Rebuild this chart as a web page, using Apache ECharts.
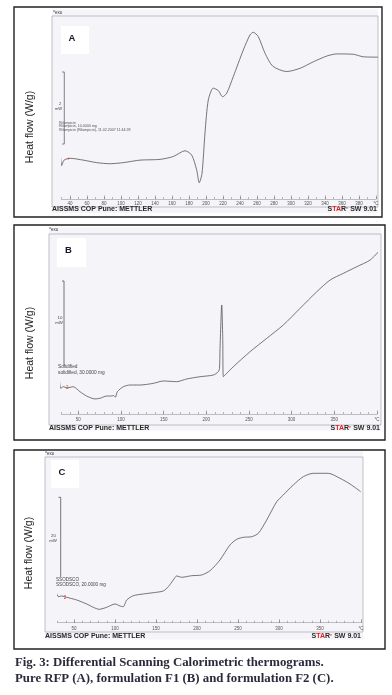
<!DOCTYPE html>
<html>
<head>
<meta charset="utf-8">
<script src="https://cdn.jsdelivr.net/npm/echarts@6/dist/echarts.min.js"></script>
<style>html,body{margin:0;padding:0;background:#fff;}#c{width:392px;height:695px;}</style>
</head>
<body>
<div id="c"></div>
<script>
// Panel A: Pure RFP
const tempA = [27.4, 30.2, 33, 40.4, 55.6, 71.4, 87, 102.7, 122.4, 145.9, 161.5, 175.3, 183.2, 189, 192.1, 195.3, 198.8, 202.7, 208.6, 214.5, 219.6, 224.4, 232.1, 243.9, 251.8, 255.6, 261.5, 269.4, 278.6, 294.9, 310.6, 326.2, 342, 353.8, 373.3, 385.1, 402.7];
const flowA = [1.73, 0.93, 1.08, 1.13, 1.08, 1.01, 0.98, 1.01, 1.08, 1.10, 1.18, 1.34, 1.22, 0.81, 0.45, 0.71, 1.83, 2.75, 3.08, 3.01, 2.84, 2.94, 3.40, 4.14, 4.56, 4.63, 4.51, 4.05, 3.69, 3.54, 3.63, 3.81, 3.97, 4.03, 4.02, 3.95, 3.94];
// Panel B: formulation F1
const tempB = [27.7, 29.4, 32.4, 36.4, 39.1, 44.1, 52, 59.8, 69.6, 75.4, 83.3, 89.2, 91.5, 93.5, 95.7, 102.8, 110.6, 122.3, 137.9, 149.6, 165.4, 177.1, 192.7, 208.3, 214.1, 215.5, 216.1, 218.1, 219.3, 220, 224, 231.7, 251.3, 270.9, 290.3, 309.9, 329.5, 345.1, 360.7, 376.4, 392, 403.7];
const flowB = [4.25, 3.06, 3.25, 3.13, 3.14, 3.25, 2.65, 2.14, 1.79, 1.87, 2.14, 2.14, 2.2, 2.0, 2.65, 3.25, 3.45, 3.45, 3.65, 3.93, 3.85, 4.17, 4.44, 4.64, 5.04, 5.44, 7.82, 12.98, 9.01, 4.44, 4.85, 5.63, 7.42, 9.01, 10.6, 12.58, 14.56, 15.95, 16.75, 17.54, 18.33, 19.52];
// Panel C: formulation F2
const tempC = [28, 30.9, 35, 41.1, 53.3, 65.5, 73.5, 80.9, 89.9, 100, 106.1, 110.1, 114.3, 122.3, 134.5, 146.7, 158.9, 165, 171.1, 175.2, 181.3, 193.5, 205.7, 215.9, 228, 240.2, 248.4, 256.5, 266.7, 274.8, 285, 297.2, 305.2, 317.4, 329.6, 341.8, 360.1, 374.4, 386.6, 399.6];
const flowC = [7.75, 6.5, 6.68, 6.35, 5.68, 4.68, 3.85, 3.35, 3.85, 4.68, 4.18, 4.0, 5.68, 6.75, 7.18, 7.5, 7.93, 9.0, 10.68, 11.68, 11.35, 11.75, 11.93, 13.0, 15.68, 19.43, 20.85, 21.35, 21.5, 22.35, 25.68, 30.25, 31.93, 34.43, 36.5, 37.35, 37.35, 36.1, 34.68, 32.75];

// Axis tick labels (°C)
const labelsA = [40, 60, 80, 100, 120, 140, 160, 180, 200, 220, 240, 260, 280, 300, 320, 340, 360, 380, 400];
const labelsBC = [50, 100, 150, 200, 250, 300, 350, 400];
const panelLetters = ['A', 'B', 'C'];
const scaleLabels = ['2', '10', '20'];
const yTitle = 'Heat flow (W/g)';

function minorTicks() { const t = []; for (let v = 30; v <= 400; v += 10) t.push(v); return t; }
const tickVals = minorTicks();

const chart = echarts.init(document.getElementById('c'), null, {renderer: 'canvas'});

const grids = [
  {left: 61.5, top: 19, width: 314.5, height: 180},
  {left: 61.24, top: 234, width: 315.7, height: 180},
  {left: 57.6, top: 462.7, width: 303.4, height: 160}
];
const yMax = [5, 21.43, 40];
const labelMargin = [2, 3.5, 4];
const labelSets = [labelsA, labelsBC, labelsBC];

const xAxes = [], yAxes = [];
for (let i = 0; i < 3; i++) {
  xAxes.push({
    gridIndex: i, type: 'value', min: 30, max: 400, position: 'bottom',
    axisLine: {show: true, lineStyle: {color: '#888', width: 0.5}},
    axisTick: {show: true, inside: true, length: 2, customValues: tickVals, lineStyle: {color: '#777', width: 0.5}},
    axisLabel: {show: false}, splitLine: {show: false}
  });
  xAxes.push({
    gridIndex: i, type: 'value', min: 30, max: 400, position: 'bottom', offset: 0,
    axisLine: {show: false},
    axisTick: {show: true, inside: true, length: 3.5, customValues: labelSets[i], lineStyle: {color: '#666', width: 0.5}},
    axisLabel: {show: true, customValues: labelSets[i], fontSize: 4.5, color: '#555', margin: labelMargin[i],
      fontFamily: 'Liberation Sans', formatter: v => v === 400 ? '°C' : String(v)},
    splitLine: {show: false}
  });
  yAxes.push({gridIndex: i, type: 'value', min: 0, max: yMax[i], show: false});
}

function mkSeries(i, temps, flows, marks) {
  return {
    type: 'line', xAxisIndex: i * 2, yAxisIndex: i, clip: false,
    data: temps.map((t, k) => [t, flows[k]]),
    showSymbol: false, smooth: 0.25, silent: true,
    lineStyle: {color: '#555', width: 0.8},
    markPoint: {
      symbol: 'circle', symbolSize: 0.1, silent: true,
      label: {show: true, color: '#e03030', fontSize: 4.5, position: 'left', distance: 0.5},
      data: marks.map(m => ({coord: [temps[m[0]], flows[m[0]]], label: {formatter: m[1]}}))
    }
  };
}

const series = [
  mkSeries(0, tempA, flowA, [[0, '1'], [3, '+']]),
  mkSeries(1, tempB, flowB, [[0, '1'], [4, '2']]),
  mkSeries(2, tempC, flowC, [[0, '0'], [3, '2']])
];

// Decorations
const G = [];
function rect(x, y, w, h, style, z) { G.push({type: 'rect', shape: {x, y, width: w, height: h}, style, z: z || 0, silent: true}); }
function txt(x, y, text, style, extra) { G.push(Object.assign({type: 'text', x, y, silent: true, style: Object.assign({text, fontFamily: 'Liberation Sans', fill: '#222'}, style)}, extra || {})); }
function pl(points, stroke, lw) { G.push({type: 'polyline', shape: {points}, style: {stroke: stroke, lineWidth: lw || 0.7, fill: null}, silent: true}); }

const panels = [
  {outer: [14, 7, 368, 210], bg: [52, 9.5, 326, 203.5], frame: [52, 16, 326, 191], exo: [53, 12.5], box: [61, 26, 28, 28],
   foot: 209.5, footL: 52, footR: 377, title: [30, 127]},
  {outer: [14, 225, 371, 215], bg: [49, 227.5, 332, 203], frame: [49, 234, 332, 191], exo: [49, 230], box: [57, 238, 29, 29],
   foot: 428, footL: 49, footR: 380, title: [30, 343]},
  {outer: [14, 450, 371, 199], bg: [45, 451.5, 318, 188], frame: [45, 457, 318, 175], exo: [45, 453.5], box: [51, 460, 28, 28],
   foot: 636.5, footL: 45, footR: 361, title: [29, 553]}
];

panels.forEach((p, i) => {
  rect(p.bg[0], p.bg[1], p.bg[2], p.bg[3], {fill: '#f4f4f9'}, -10);
  rect(p.frame[0], p.frame[1], p.frame[2], p.frame[3], {fill: null, stroke: '#a8a8b0', lineWidth: 0.7}, -9);
  rect(p.box[0], p.box[1], p.box[2], p.box[3], {fill: '#ffffff'}, -8);
  rect(p.outer[0], p.outer[1], p.outer[2], p.outer[3], {fill: null, stroke: '#222', lineWidth: 1.4}, 5);
  txt(p.box[0] + p.box[2] / 2 - 3, p.box[1] + p.box[3] / 2 - 2, panelLetters[i],
    {fontSize: 9.5, fontWeight: 'bold', fill: '#15152a', align: 'center', verticalAlign: 'middle'});
  txt(p.exo[0], p.exo[1], '^exo', {fontSize: 4.5, fill: '#333', verticalAlign: 'middle'});
  txt(p.footL, p.foot, 'AISSMS COP Pune: METTLER', {fontSize: 7, fontWeight: 'bold', fill: '#2a2a2a', verticalAlign: 'middle'});
  txt(p.footR, p.foot, '{k|S}{r|TA}{k|R}{s|e}{k| SW 9.01}', {align: 'right', verticalAlign: 'middle',
    rich: {k: {fontSize: 7, fontWeight: 'bold', fill: '#2a2a2a', fontFamily: 'Liberation Sans'},
           r: {fontSize: 7, fontWeight: 'bold', fill: '#e02020', fontFamily: 'Liberation Sans'},
           s: {fontSize: 3.8, fill: '#e02020', verticalAlign: 'top', fontFamily: 'Liberation Sans'}}});
  txt(p.title[0], p.title[1], yTitle, {fontSize: 10.5, fill: '#222', align: 'center', verticalAlign: 'middle'},
    {rotation: Math.PI / 2});
});

// scale bars
pl([[62, 72], [64.3, 72], [64.3, 144], [62, 144]], '#555', 0.7);
txt(60, 104, scaleLabels[0], {fontSize: 4, fill: '#444', align: 'center', verticalAlign: 'middle'});
txt(58.5, 108.5, 'mW', {fontSize: 4, fill: '#444', align: 'center', verticalAlign: 'middle'});
txt(59, 122.5, 'Rifampicin', {fontSize: 3.6, fill: '#555', verticalAlign: 'middle'});
txt(59, 126.3, 'Rifampicin, 10.0000 mg', {fontSize: 3.6, fill: '#555', verticalAlign: 'middle'});
txt(59, 130, 'Rifampicin (Rifampicin), 11.02.2007 11:44:28', {fontSize: 3.6, fill: '#555', verticalAlign: 'middle'});

pl([[62, 281], [64, 281], [64, 366]], '#555', 0.8);
txt(60, 318.3, scaleLabels[1], {fontSize: 4.3, fill: '#444', align: 'center', verticalAlign: 'middle'});
txt(59, 322.5, 'mW', {fontSize: 4.3, fill: '#444', align: 'center', verticalAlign: 'middle'});
txt(58, 366.8, 'Solidified', {fontSize: 4.8, fill: '#444', verticalAlign: 'middle'});
txt(58, 372.8, 'solidified, 30.0000 mg', {fontSize: 4.8, fill: '#444', verticalAlign: 'middle'});

pl([[58.5, 497.3], [60.7, 497.3], [60.7, 577]], '#555', 0.8);
txt(53.5, 535.7, scaleLabels[2], {fontSize: 4.3, fill: '#444', align: 'center', verticalAlign: 'middle'});
txt(53, 541, 'mW', {fontSize: 4.3, fill: '#444', align: 'center', verticalAlign: 'middle'});
txt(56, 579.5, 'SSODSCO', {fontSize: 4.6, fill: '#444', verticalAlign: 'middle'});
txt(56, 585.2, 'SSODSCO, 20.0000 mg', {fontSize: 4.6, fill: '#444', verticalAlign: 'middle'});

// caption
txt(15, 663, 'Fig. 3: Differential Scanning Calorimetric thermograms.', {fontSize: 12.8, fontWeight: 'bold', fontFamily: 'Liberation Serif', fill: '#2a2a3c', verticalAlign: 'middle'});
txt(15, 678.5, 'Pure RFP (A), formulation F1 (B) and formulation F2 (C).', {fontSize: 12.8, fontWeight: 'bold', fontFamily: 'Liberation Serif', fill: '#2a2a3c', verticalAlign: 'middle'});

chart.setOption({
  animation: false,
  grid: grids,
  xAxis: xAxes,
  yAxis: yAxes,
  series: series,
  graphic: G
});
</script>
</body>
</html>
